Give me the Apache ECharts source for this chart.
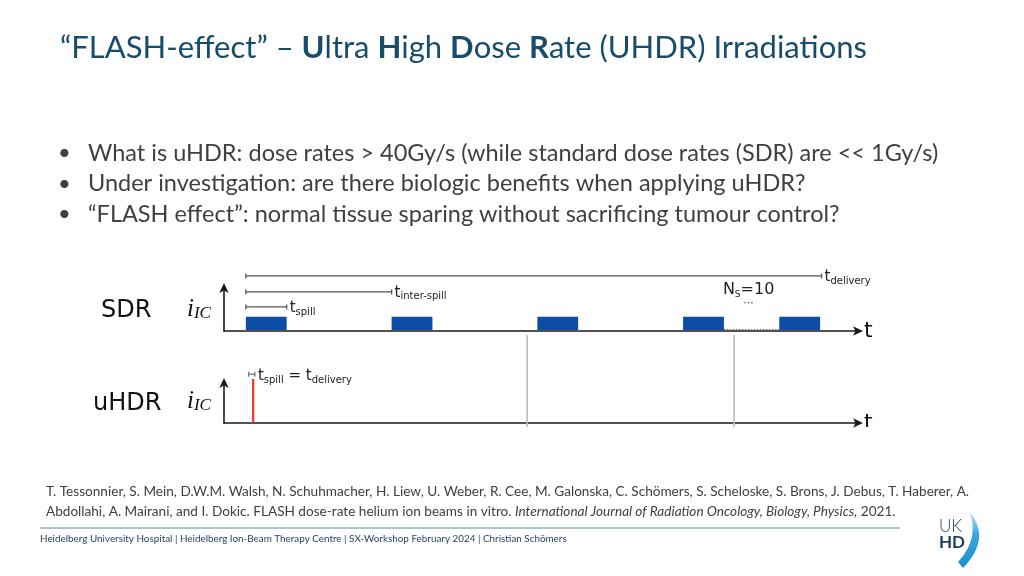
<!DOCTYPE html>
<html><head><meta charset="utf-8">
<script src="https://cdn.jsdelivr.net/npm/echarts@6/dist/echarts.min.js"></script>
<style>html,body{margin:0;padding:0;background:#fff}#c{width:1024px;height:576px}</style>
</head><body><div id="c"></div>
<script>
// ---- data (time in units of the inter-spill period) ----
const spillStart = [0, 1, 2, 3, 3.66];
const spillDuration = 0.28;
const spillHeight = 0.33;
const dimNames = ['delivery', 'inter-spill', 'spill'];
const dimEnd = [3.95, 1.0, 0.28];
const dimLevel = [1.28, 0.91, 0.56];
const gapStart = 3.28, gapEnd = 3.66;
const uhdrPulse = 0.05;
const dividers = [1.93, 3.35];
const nSpills = 10;
const bullets = [
  'What is uHDR: dose rates > 40Gy/s (while standard dose rates (SDR) are << 1Gy/s)',
  'Under investigation: are there biologic benefits when applying uHDR?',
  '\u201CFLASH effect\u201D: normal tissue sparing without sacrificing tumour control?'
];

const chart = echarts.init(document.getElementById('c'), null, {renderer: 'canvas'});
const axisColor = '#1a1a1a';
const xMin = -0.15, xMax = 4.2;

function xAx(gi) {
  return {gridIndex: gi, type: 'value', min: xMin, max: xMax,
    axisLine: {show: true, onZero: false, symbol: ['none', 'arrow'], symbolSize: [7, 10], symbolOffset: [0, 5],
      lineStyle: {color: axisColor, width: 1.6}},
    axisTick: {show: false}, axisLabel: {show: false}, splitLine: {show: false},
    name: 't', nameLocation: 'end', nameGap: 6,
    nameTextStyle: {fontFamily: 'DejaVu Sans', fontSize: 22, color: '#111', verticalAlign: 'middle', padding: [2, 0, 0, 0]}};
}
function yAx(gi) {
  return {gridIndex: gi, type: 'value', min: 0, max: 1,
    axisLine: {show: true, onZero: false, symbol: ['none', 'arrow'], symbolSize: [7, 10], symbolOffset: [0, 5],
      lineStyle: {color: axisColor, width: 1.6}},
    axisTick: {show: false}, axisLabel: {show: false}, splitLine: {show: false}};
}

const tRich = {
  t: {fontFamily: 'DejaVu Sans', fontSize: 15, fill: '#222', lineHeight: 18},
  s: {fontFamily: 'DejaVu Sans', fontSize: 10, fill: '#222', lineHeight: 10, verticalAlign: 'bottom'}
};
const iRich = {
  i: {fontFamily: 'Liberation Serif', fontStyle: 'italic', fontSize: 25, fill: '#111', lineHeight: 26},
  s: {fontFamily: 'Liberation Serif', fontStyle: 'italic', fontSize: 17, fill: '#111', lineHeight: 14, verticalAlign: 'bottom'}
};

// crescent of the logo, sampled from two quadratic curves
function quad(p0, p1, p2, n) {
  const pts = [];
  for (let k = 0; k <= n; k++) {
    const t = k / n, u = 1 - t;
    pts.push([u * u * p0[0] + 2 * u * t * p1[0] + t * t * p2[0], u * u * p0[1] + 2 * u * t * p1[1] + t * t * p2[1]]);
  }
  return pts;
}
const crescent = quad([969, 511], [992, 538], [963, 568], 20).concat(quad([958, 562], [980, 538], [969, 511], 20));

const option = {
  animation: false,
  grid: [
    {left: 224, right: 166, top: 288, height: 43},
    {left: 224, right: 166, top: 383, height: 40}
  ],
  xAxis: [xAx(0), xAx(1)],
  yAxis: [yAx(0), yAx(1)],
  series: [
    { // SDR spills
      type: 'custom', xAxisIndex: 0, yAxisIndex: 0,
      data: spillStart.map(s => [s, s + spillDuration, spillHeight]),
      renderItem(p, api) {
        const a = api.coord([api.value(0), api.value(2)]);
        const b = api.coord([api.value(1), 0]);
        return {type: 'rect', shape: {x: a[0], y: a[1], width: b[0] - a[0], height: b[1] - a[1] - 1},
          style: {fill: '#0c4ea5'}};
      }
    },
    { // dimension lines
      type: 'custom', xAxisIndex: 0, yAxisIndex: 0, clip: false,
      data: dimEnd.map((e, i) => [0, e, dimLevel[i], i]),
      renderItem(p, api) {
        const a = api.coord([api.value(0), api.value(2)]);
        const b = api.coord([api.value(1), api.value(2)]);
        const ls = {stroke: '#555', lineWidth: 1.3};
        return {type: 'group', children: [
          {type: 'line', shape: {x1: a[0], y1: a[1], x2: b[0], y2: b[1]}, style: ls},
          {type: 'line', shape: {x1: a[0], y1: a[1] - 2.5, x2: a[0], y2: a[1] + 2.5}, style: ls},
          {type: 'line', shape: {x1: b[0], y1: b[1] - 2.5, x2: b[0], y2: b[1] + 2.5}, style: ls},
          {type: 'text', x: b[0] + 3, y: b[1] + 1,
            style: {text: '{t|t}{s|' + dimNames[api.value(3)] + '}', verticalAlign: 'middle', rich: tRich}}
        ]};
      }
    },
    { // dotted gap between spills
      type: 'custom', xAxisIndex: 0, yAxisIndex: 0, clip: false,
      data: [[gapStart, gapEnd]],
      renderItem(p, api) {
        const a = api.coord([api.value(0), 0]);
        const b = api.coord([api.value(1), 0]);
        return {type: 'line', shape: {x1: a[0], y1: a[1] - 1.5, x2: b[0], y2: b[1] - 1.5},
          style: {stroke: '#777', lineWidth: 1.2, lineDash: [1.5, 1.5]}};
      }
    },
    { // N_S label
      type: 'custom', xAxisIndex: 0, yAxisIndex: 0, clip: false,
      data: [[(gapStart + gapEnd) / 2, nSpills]],
      renderItem(p, api) {
        const a = api.coord([api.value(0), 1]);
        return {type: 'group', children: [
          {type: 'text', x: a[0] - 3, y: a[1] + 2, style: {text: '{n|N}{s|S}{n|=' + api.value(1) + '}',
            align: 'center', verticalAlign: 'middle',
            rich: {n: {fontFamily: 'DejaVu Sans', fontSize: 16, fill: '#222', lineHeight: 18},
                   s: {fontFamily: 'DejaVu Sans', fontSize: 9, fill: '#222', lineHeight: 10, verticalAlign: 'bottom'}}}},
          {type: 'text', x: a[0] - 3, y: a[1] + 15, style: {text: '\u00B7\u00B7\u00B7', align: 'center', verticalAlign: 'middle',
            fontFamily: 'DejaVu Sans', fontSize: 11, fill: '#333'}}
        ]};
      }
    },
    { // uHDR pulse
      type: 'custom', xAxisIndex: 1, yAxisIndex: 1, clip: false,
      data: [[uhdrPulse]],
      renderItem(p, api) {
        const a = api.coord([api.value(0), 0]);
        const b = api.coord([api.value(0), 1.1]);
        const c1 = api.coord([api.value(0) - 0.03, 1.22]);
        const c2 = api.coord([api.value(0) + 0.012, 1.22]);
        const ls = {stroke: '#555', lineWidth: 1};
        return {type: 'group', children: [
          {type: 'line', shape: {x1: a[0], y1: a[1], x2: b[0], y2: b[1]}, style: {stroke: '#e8403a', lineWidth: 2.4}},
          {type: 'line', shape: {x1: c1[0], y1: c1[1], x2: c2[0], y2: c2[1]}, style: ls},
          {type: 'line', shape: {x1: c1[0], y1: c1[1] - 2.5, x2: c1[0], y2: c1[1] + 2.5}, style: ls},
          {type: 'line', shape: {x1: c2[0], y1: c2[1] - 2.5, x2: c2[0], y2: c2[1] + 2.5}, style: ls},
          {type: 'text', x: c2[0] + 3, y: c2[1] + 2, style: {text: '{t|t}{s|spill}{t| = t}{s|delivery}', verticalAlign: 'middle', rich: tRich}}
        ]};
      }
    },
    { // grey divider lines
      type: 'custom', xAxisIndex: 1, yAxisIndex: 1, clip: false,
      data: dividers.map(d => [d]),
      renderItem(p, api) {
        const a = api.coord([api.value(0), -0.1]);
        const b = api.coord([api.value(0), 2.2]);
        return {type: 'line', shape: {x1: a[0], y1: a[1], x2: b[0], y2: b[1]}, style: {stroke: '#bdbdbd', lineWidth: 1.6}, z2: -1};
      }
    }
  ],
  graphic: [
    {type: 'text', left: 60, top: 32, style: {
      text: '\u201CFLASH-effect\u201D \u2013 {b|U}ltra {b|H}igh {b|D}ose {b|R}ate (UHDR) Irradiations',
      fontFamily: 'Lato', fontSize: 31, fill: '#174c6c',
      rich: {b: {fontFamily: 'Lato', fontWeight: 'bold', fontSize: 31, fill: '#174c6c'}}}},
    ...bullets.flatMap((b, i) => [
      {type: 'text', left: 58, top: 142 + i * 30.5, style: {text: '\u2022', fontFamily: 'Lato', fontSize: 22, fill: '#404040'}},
      {type: 'text', left: 88, top: 141 + i * 30.5, style: {text: b, fontFamily: 'Lato', fontSize: 23.5, fill: '#404040'}}
    ]),
    {type: 'text', left: 101, top: 299, style: {text: 'SDR', fontFamily: 'DejaVu Sans', fontSize: 24, fill: '#111'}},
    {type: 'text', left: 93, top: 392, style: {text: 'uHDR', fontFamily: 'DejaVu Sans', fontSize: 24, fill: '#111'}},
    {type: 'text', left: 187, top: 297, style: {text: '{i|i}{s|IC}', rich: iRich}},
    {type: 'text', left: 187, top: 389, style: {text: '{i|i}{s|IC}', rich: iRich}},
    {type: 'text', left: 46, top: 485, style: {
      text: 'T. Tessonnier, S. Mein, D.W.M. Walsh, N. Schuhmacher, H. Liew, U. Weber, R. Cee, M. Galonska, C. Sch\u00F6mers, S. Scheloske, S. Brons, J. Debus, T. Haberer, A.',
      fontFamily: 'Lato', fontSize: 13.6, fill: '#404040'}},
    {type: 'text', left: 46, top: 505, style: {
      text: 'Abdollahi, A. Mairani, and I. Dokic. FLASH dose-rate helium ion beams in vitro. {i|International Journal of Radiation Oncology, Biology, Physics,} 2021.',
      fontFamily: 'Lato', fontSize: 13.6, fill: '#404040',
      rich: {i: {fontFamily: 'Lato', fontStyle: 'italic', fontSize: 13.6, fill: '#404040'}}}},
    {type: 'line', shape: {x1: 40, y1: 528, x2: 900, y2: 528}, style: {stroke: '#94aec4', lineWidth: 1.5}},
    {type: 'text', left: 40, top: 534, style: {
      text: 'Heidelberg University Hospital | Heidelberg Ion-Beam Therapy Centre | SX-Workshop February 2024 | Christian Sch\u00F6mers',
      fontFamily: 'Lato', fontSize: 9.9, fill: '#1f3a5f'}},
    {type: 'text', left: 939, top: 518, style: {text: 'UK', fontFamily: 'Lato', fontWeight: 300, fontSize: 17, fill: '#1d3d5c'}},
    {type: 'text', left: 939, top: 534, style: {text: 'HD', fontFamily: 'Lato', fontWeight: 'bold', fontSize: 17, fill: '#1d3d5c'}},
    {type: 'polygon', shape: {points: crescent},
      style: {fill: {type: 'linear', x: 0, y: 0, x2: 0, y2: 1, colorStops: [{offset: 0, color: '#cfe8f6'}, {offset: 0.4, color: '#3aa7dd'}, {offset: 1, color: '#1b8fd0'}]}}},
    {type: 'rect', shape: {x: 856, y: 427, width: 20, height: 14}, style: {fill: '#fff'}, z: 100}
  ]
};
chart.setOption(option);
</script></body></html>
